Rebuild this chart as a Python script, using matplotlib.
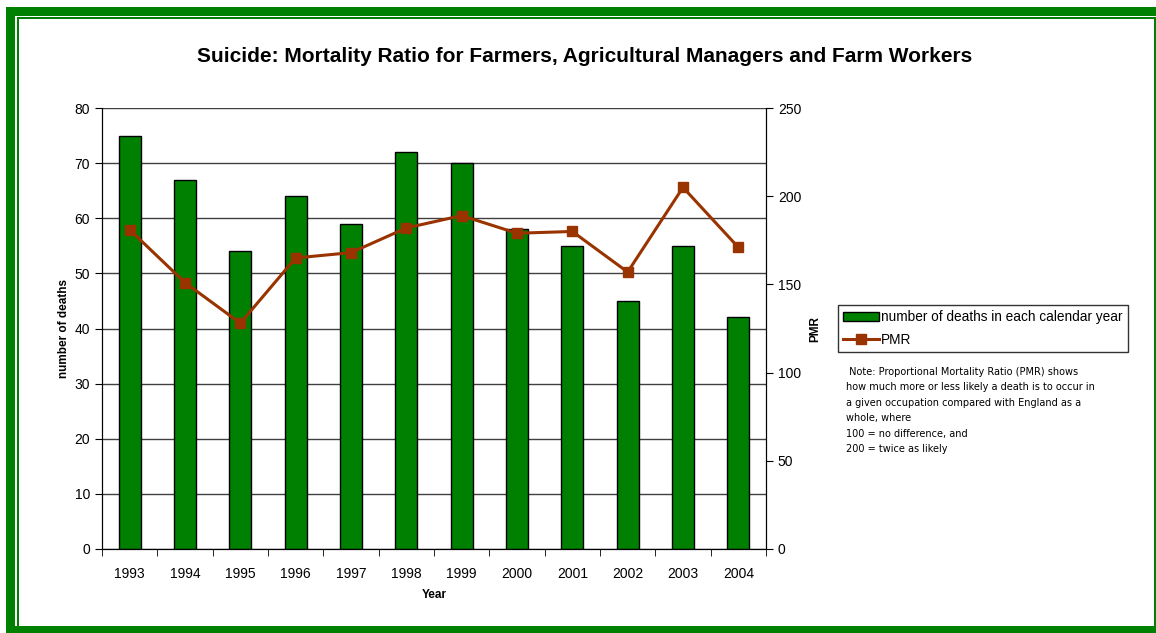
import matplotlib
matplotlib.use("Agg")
import matplotlib.pyplot as plt
from matplotlib.patches import Rectangle
from matplotlib.lines import Line2D
import numpy as np

years = ["1993", "1994", "1995", "1996", "1997", "1998", "1999", "2000", "2001", "2002", "2003", "2004"]
deaths = [75, 67, 54, 64, 59, 72, 70, 58, 55, 45, 55, 42]
pmr = [181, 151, 128, 165, 168, 182, 189, 179, 180, 157, 205, 171]

title = "Suicide: Mortality Ratio for Farmers, Agricultural Managers and Farm Workers"
note = (" Note: Proportional Mortality Ratio (PMR) shows\n"
        "how much more or less likely a death is to occur in\n"
        "a given occupation compared with England as a\n"
        "whole, where\n"
        "100 = no difference, and\n"
        "200 = twice as likely")

plt.rcParams['font.family'] = ['Liberation Sans', 'DejaVu Sans']

W, H = 1156, 633
fig = plt.figure(figsize=(W / 100, H / 100), dpi=100)
fig.patch.set_facecolor("white")

green = "#008000"
line_col = "#993300"

def px(x0, y0, x1, y1):
    return (x0 / W, 1 - y1 / H, (x1 - x0) / W, (y1 - y0) / H)

# border
for (x0, y0, x1, y1) in [(6, 7, 15, 633), (6, 7, 1156, 16), (6, 626, 1156, 633),
                         (17, 17, 19, 633), (17, 17, 1156, 19), (1154, 17, 1156, 633)]:
    l, b, w, h = px(x0, y0, x1, y1)
    fig.patches.append(Rectangle((l, b), w, h, transform=fig.transFigure,
                                 facecolor=green, edgecolor="none", zorder=0))

ax = fig.add_axes(px(102, 108, 766, 549))
x = np.arange(len(years))
ax.bar(x, deaths, width=0.4, color=green, edgecolor="black", linewidth=1, zorder=3)
ax.set_xlim(-0.5, len(years) - 0.5)
ax.set_ylim(0, 80)
ax.set_yticks(np.arange(0, 81, 10))
ax.yaxis.grid(True, color="#404040", linewidth=1)
ax.set_axisbelow(True)
ax.set_xticks(x)
ax.set_xticklabels(years, fontsize=10)
ax.set_xticks(np.arange(-0.5, len(years), 1), minor=True)
ax.tick_params(axis="x", which="major", length=0, pad=13)
ax.tick_params(axis="x", which="minor", length=5, direction="out", color="black")
ax.tick_params(axis="y", labelsize=10, length=5, direction="out")
ax.spines["top"].set_visible(False)
for s in ["left", "bottom", "right"]:
    ax.spines[s].set_color("black")
ax.set_ylabel("number of deaths", fontsize=8.5, fontweight="bold", labelpad=3)
ax.set_xlabel("Year", fontsize=8.5, fontweight="bold", labelpad=6)

ax2 = ax.twinx()
ax2.plot(x, pmr, color=line_col, linewidth=2.2, marker="s", markersize=6.5, zorder=4)
ax2.set_ylim(0, 250)
ax2.set_yticks(np.arange(0, 251, 50))
ax2.tick_params(axis="y", labelsize=10, length=5, direction="out")
ax2.spines["top"].set_visible(False)
ax2.set_ylabel("PMR", fontsize=8.5, fontweight="bold", labelpad=6)

fig.text(585 / W, 1 - 57 / H, title, ha="center", va="center", fontsize=15, fontweight="bold")

handles = [Rectangle((0, 0), 1, 1, facecolor=green, edgecolor="black", linewidth=1),
           Line2D([], [], color=line_col, linewidth=2.2, marker="s", markersize=6.5)]
leg = fig.legend(handles, ["number of deaths in each calendar year", "PMR"],
                 loc="upper left", bbox_to_anchor=(838 / W, 1 - 305 / H),
                 fontsize=9.8, frameon=True, fancybox=False, borderpad=0.4,
                 labelspacing=0.6, handlelength=2.6, handletextpad=0.15, borderaxespad=0)
leg.get_frame().set_edgecolor("black")
leg.get_frame().set_linewidth(1)

fig.text(846 / W, 1 - 367 / H, note, ha="left", va="top", fontsize=7,
         family=["DejaVu Sans"], linespacing=1.68)

fig.savefig("out.png", dpi=100, facecolor="white")
